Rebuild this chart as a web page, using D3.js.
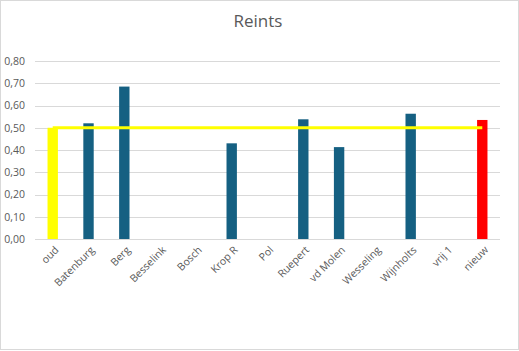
<!DOCTYPE html>
<html>
<head>
<meta charset="utf-8">
<script src="https://cdn.jsdelivr.net/npm/d3@7"></script>
<style>
  body { margin: 0; background: #fff; }
  svg { display: block; font-family: "Open Sans", "Liberation Sans", sans-serif; }
</style>
</head>
<body>
<div id="chart"></div>
<script>
// data
const categories = ["oud", "Batenburg", "Berg", "Besselink", "Bosch", "Krop R", "Pol",
                    "Ruepert", "vd Molen", "Wesseling", "Wijnholts", "vrij 1", "nieuw"];
const values = [0.50, 0.52, 0.685, null, null, 0.43, null, 0.538, 0.413, null, 0.563, null, 0.535];
const barColors = ["#FFFF00", "#156082", "#156082", "#156082", "#156082", "#156082", "#156082",
                   "#156082", "#156082", "#156082", "#156082", "#156082", "#FF0000"];
const referenceLine = categories.map(() => 0.50);
const yTicks = [0, 0.1, 0.2, 0.3, 0.4, 0.5, 0.6, 0.7, 0.8];

const width = 519, height = 351;
const margin = {top: 61, right: 19, bottom: 112, left: 35};

const svg = d3.select("#chart").append("svg")
    .attr("width", width)
    .attr("height", height);

// outer border
svg.append("rect")
    .attr("x", 0.5).attr("y", 0.5)
    .attr("width", width - 1).attr("height", height - 2)
    .attr("fill", "#fff")
    .attr("stroke", "#d9d9d9");

svg.append("text")
    .attr("x", 258).attr("y", 27)
    .attr("text-anchor", "middle")
    .attr("font-size", 17)
    .attr("fill", "#595959")
    .text("Reints");

const xScale = d3.scaleBand()
    .domain(categories)
    .range([margin.left, width - margin.right])
    .paddingInner(0.71)
    .paddingOuter(0.35);

const yScale = d3.scaleLinear()
    .domain([0, 0.8])
    .range([height - margin.bottom, margin.top]);

// gridlines
svg.append("g")
    .selectAll("line")
    .data(yTicks)
    .join("line")
    .attr("x1", margin.left)
    .attr("x2", width - margin.right)
    .attr("y1", d => Math.round(yScale(d)) + 0.5)
    .attr("y2", d => Math.round(yScale(d)) + 0.5)
    .attr("stroke", "#d9d9d9")
    .attr("stroke-width", 1);

// y axis
const yAxis = d3.axisLeft(yScale)
    .tickValues(yTicks)
    .tickSize(0)
    .tickPadding(10)
    .tickFormat(d => d3.format(".2f")(d).replace(".", ","));

svg.append("g")
    .attr("transform", `translate(${margin.left},0)`)
    .call(yAxis)
    .call(g => g.select(".domain").remove())
    .selectAll("text")
    .attr("font-size", 10.5)
    .attr("font-family", "Open Sans, Liberation Sans, sans-serif")
    .attr("fill", "#595959");

// bars
svg.append("g")
    .selectAll("rect")
    .data(categories.map((c, i) => ({cat: c, v: values[i], color: barColors[i]})).filter(d => d.v != null))
    .join("rect")
    .attr("x", d => xScale(d.cat))
    .attr("y", d => yScale(d.v))
    .attr("width", xScale.bandwidth())
    .attr("height", d => yScale(0) - yScale(d.v))
    .attr("fill", d => d.color);

// reference line
const line = d3.line()
    .x((d, i) => xScale(categories[i]) + xScale.bandwidth() / 2)
    .y(d => yScale(d));

svg.append("path")
    .datum(referenceLine)
    .attr("d", line)
    .attr("fill", "none")
    .attr("stroke", "#FFFF00")
    .attr("stroke-width", 3);

// x labels
svg.append("g")
    .selectAll("text")
    .data(categories)
    .join("text")
    .attr("transform", d => `translate(${xScale(d) + xScale.bandwidth() / 2 + 4},${yScale(0) + 9}) rotate(-45)`)
    .attr("text-anchor", "end")
    .attr("dy", "0.35em")
    .attr("font-size", 10.5)
    .attr("fill", "#595959")
    .text(d => d);
</script>
</body>
</html>
